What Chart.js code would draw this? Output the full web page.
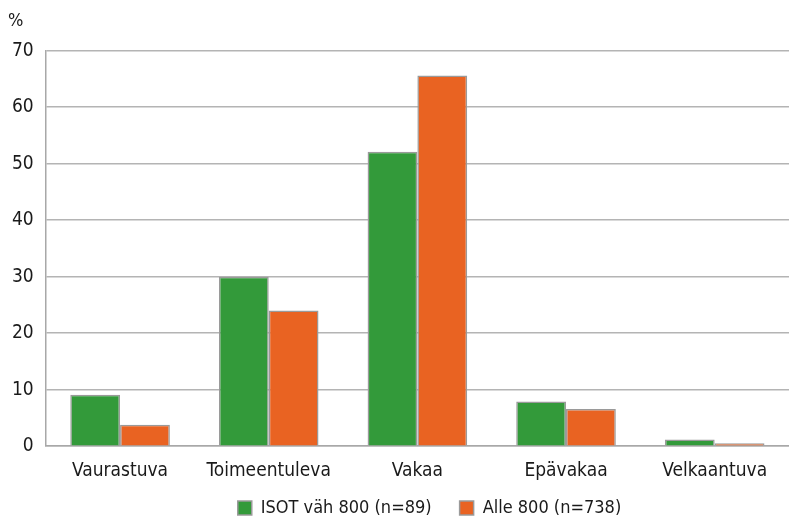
<!DOCTYPE html>
<html>
<head>
<meta charset="utf-8">
<script src="https://cdn.jsdelivr.net/npm/chart.js@4/dist/chart.umd.min.js"></script>
<style>
    html, body { margin: 0; padding: 0; background: #fff; }
    #wrap { width: 789px; height: 520px; }
</style>
</head>
<body>
<div id="wrap"><canvas id="barChart"></canvas></div>
<script>
const categories = ["Vaurastuva", "Toimeentuleva", "Vakaa", "Epävakaa", "Velkaantuva"];
const isotValues = [9.1, 30.0, 52.1, 7.9, 1.2];
const alleValues = [3.8, 24.0, 65.6, 6.6, 0.5];
const seriesLabels = ["ISOT väh 800 (n=89)", "Alle 800 (n=738)"];
const yTicks = [0, 10, 20, 30, 40, 50, 60, 70];

const FONT = "'DejaVu Sans Condensed', 'Liberation Sans Narrow', sans-serif";
Chart.defaults.font.family = FONT;
Chart.defaults.color = "#1a1a1a";

// nudge the legend and the "%" label into place like in the original
const boxShift = {
    id: "boxShift",
    afterLayout(chart) {
        const lg = chart.legend;
        if (lg) {
            lg.left += 35;
            lg.right += 35;
            lg.top -= 16;
            lg.bottom = chart.height;
        }
        const tb = chart.titleBlock;
        if (tb) {
            tb.left += 8;
            tb.right += 8;
            tb.top -= 3;
        }
    },
};

const ctx = document.getElementById("barChart").getContext("2d");

new Chart(ctx, {
    type: "bar",
    data: {
        labels: categories,
        datasets: [
            {
                label: seriesLabels[0],
                data: isotValues,
                backgroundColor: "#339a3a",
                borderColor: "#9a9a9a",
                borderWidth: 1.5,
            },
            {
                label: seriesLabels[1],
                data: alleValues,
                backgroundColor: "#e96322",
                borderColor: "#9a9a9a",
                borderWidth: 1.5,
            },
        ],
    },
    options: {
        responsive: true,
        maintainAspectRatio: false,
        animation: false,
        layout: {
            padding: { left: 0, right: 0, top: 4, bottom: 0 },
        },
        datasets: {
            bar: {
                barPercentage: 1,
                categoryPercentage: 0.67,
            },
        },
        scales: {
            x: {
                grid: { display: false },
                border: { display: true, color: "#a8a8a8", width: 1.5 },
                ticks: {
                    font: { size: 19 },
                    padding: 5,
                },
            },
            y: {
                min: 0,
                max: 70,
                afterBuildTicks: (scale) => {
                    scale.ticks = yTicks.map((v) => ({ value: v }));
                },
                grid: {
                    color: "#b4b4b4",
                    lineWidth: 1.5,
                    drawTicks: false,
                },
                border: { display: true, color: "#a8a8a8", width: 1.5 },
                ticks: {
                    font: { size: 19 },
                    padding: 12,
                },
            },
        },
        plugins: {
            title: {
                display: true,
                text: "%",
                align: "start",
                font: { size: 18, weight: "normal" },
                padding: { top: 10, bottom: 15 },
            },
            legend: {
                position: "bottom",
                maxHeight: 33,
                labels: {
                    boxWidth: 14,
                    boxHeight: 14,
                    font: { size: 18 },
                    padding: 28,
                },
            },
            tooltip: { enabled: false },
        },
    },
    plugins: [boxShift],
});
</script>
</body>
</html>
